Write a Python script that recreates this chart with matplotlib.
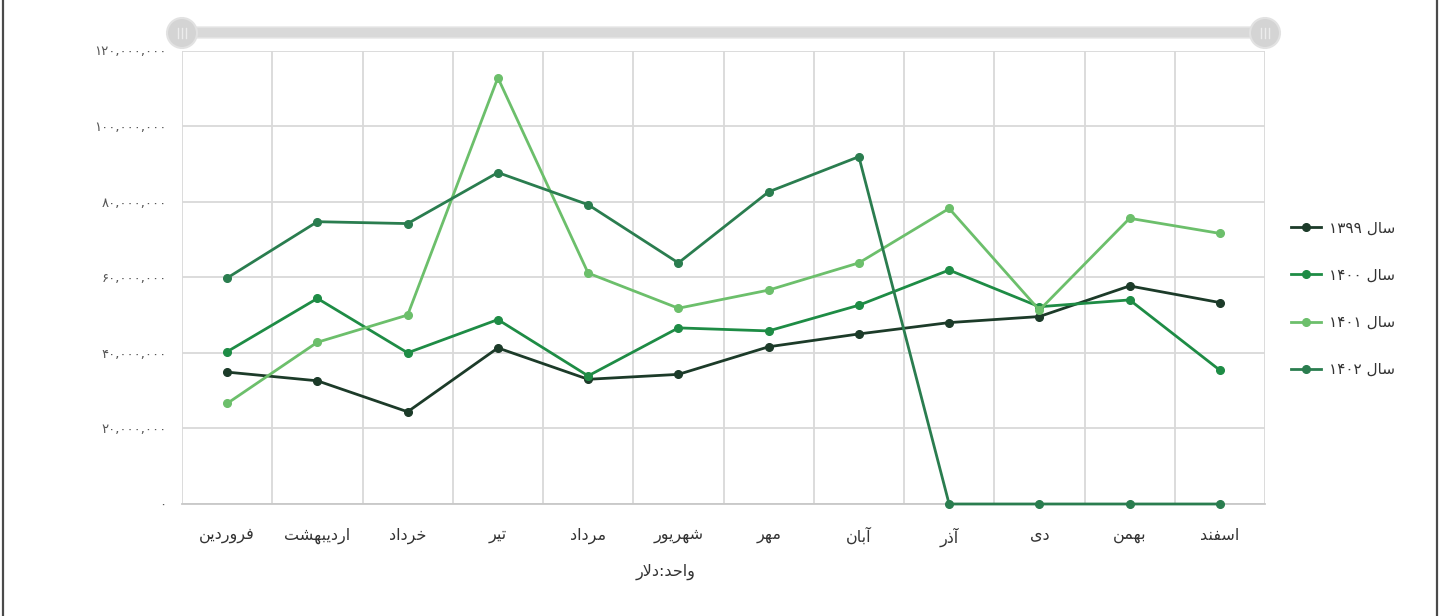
import numpy as np
import matplotlib
matplotlib.use('Agg')
import matplotlib.pyplot as plt
from matplotlib.patches import Circle, FancyBboxPatch
from matplotlib.ticker import FuncFormatter

# data (values in dollars)
months = ['فروردین', 'اردیبهشت', 'خرداد', 'تیر', 'مرداد', 'شهریور',
          'مهر', 'آبان', 'آذر', 'دی', 'بهمن', 'اسفند']
years = ['۱۳۹۹', '۱۴۰۰', '۱۴۰۱', '۱۴۰۲']
y1399 = [34.9, 32.6, 24.4, 41.3, 33.0, 34.3, 41.6, 45.0, 48.0, 49.6, 57.7, 53.3]
y1400 = [40.3, 54.4, 40.0, 48.8, 33.9, 46.6, 45.8, 52.6, 61.9, 52.2, 54.0, 35.4]
y1401 = [26.6, 42.8, 50.0, 112.8, 61.1, 51.8, 56.6, 63.8, 78.2, 51.3, 75.6, 71.6]
y1402 = [59.8, 74.7, 74.2, 87.7, 79.2, 63.8, 82.6, 91.9, 0, 0, 0, 0]
unit_label = 'واحد:دلار'
colors = ['#1c3b29', '#1e8c45', '#6cbf6b', '#2a7d4f']

# --- minimal persian shaping (matplotlib has no complex text layout) ---
FORMS = {  # isolated, final, initial, medial
    'ا': ('\uFE8D', '\uFE8E', None, None),
    'آ': ('\uFE81', '\uFE82', None, None),
    'ب': ('\uFE8F', '\uFE90', '\uFE91', '\uFE92'),
    'ت': ('\uFE95', '\uFE96', '\uFE97', '\uFE98'),
    'ح': ('\uFEA1', '\uFEA2', '\uFEA3', '\uFEA4'),
    'خ': ('\uFEA5', '\uFEA6', '\uFEA7', '\uFEA8'),
    'د': ('\uFEA9', '\uFEAA', None, None),
    'ذ': ('\uFEAB', '\uFEAC', None, None),
    'ر': ('\uFEAD', '\uFEAE', None, None),
    'س': ('\uFEB1', '\uFEB2', '\uFEB3', '\uFEB4'),
    'ش': ('\uFEB5', '\uFEB6', '\uFEB7', '\uFEB8'),
    'ف': ('\uFED1', '\uFED2', '\uFED3', '\uFED4'),
    'ل': ('\uFEDD', '\uFEDE', '\uFEDF', '\uFEE0'),
    'م': ('\uFEE1', '\uFEE2', '\uFEE3', '\uFEE4'),
    'ن': ('\uFEE5', '\uFEE6', '\uFEE7', '\uFEE8'),
    'ه': ('\uFEE9', '\uFEEA', '\uFEEB', '\uFEEC'),
    'و': ('\uFEED', '\uFEEE', None, None),
    'ی': ('\uFBFC', '\uFBFD', '\uFBFE', '\uFBFF'),
}


def shape(text):
    chars = list(text)
    out = []
    i = 0
    while i < len(chars):
        ch = chars[i]
        prev = chars[i - 1] if i > 0 else None
        joins_prev = prev in FORMS and FORMS[prev][2] is not None and out and out[-1] != ' '
        if ch not in FORMS:
            out.append(ch)
            i += 1
            continue
        nxt = chars[i + 1] if i + 1 < len(chars) else None
        if ch == 'ل' and nxt in ('ا', 'آ'):
            out.append('\uFEFC' if joins_prev else '\uFEFB')
            i += 2
            continue
        can_next = FORMS[ch][2] is not None and nxt in FORMS
        iso, fin, ini, med = FORMS[ch]
        if joins_prev and can_next:
            out.append(med)
        elif joins_prev:
            out.append(fin)
        elif can_next:
            out.append(ini)
        else:
            out.append(iso)
        i += 1
    return ''.join(reversed(out))


PDIG = str.maketrans('0123456789', '۰۱۲۳۴۵۶۷۸۹')


def fa_num(v, pos):
    return '{:,}'.format(int(round(v))).translate(PDIG)


plt.rcParams['font.family'] = ['DejaVu Sans']

fig = plt.figure(figsize=(14.5, 6.16), dpi=100)
W, H = 1450, 616

# decoration layer in pixel coordinates (scroll bar, frame lines)
bg = fig.add_axes([0, 0, 1, 1], zorder=0)
bg.set_xlim(0, W)
bg.set_ylim(H, 0)
bg.axis('off')
bg.add_patch(FancyBboxPatch((185, 27), 1080, 11, boxstyle='round,pad=0,rounding_size=5',
                            fc='#d9d9d9', ec='#e6e6e6', lw=1))
for cx in (182, 1265):
    bg.add_patch(Circle((cx, 33), 15, fc='#d4d4d4', ec='#e2e2e2', lw=1.5))
    for dx in (-4, 0, 4):
        bg.plot([cx + dx, cx + dx], [28, 38], color='#ececec', lw=1)
bg.plot([3, 3], [0, H], color='#4a4a4a', lw=1.6)
bg.plot([1437, 1437], [0, H], color='#4a4a4a', lw=1.6)

ax = fig.add_axes([182 / W, 1 - 504 / H, (1265 - 182) / W, (504 - 50.5) / H], zorder=1)
ax.patch.set_alpha(0)

x = np.arange(len(months))
series = [y1399, y1400, y1401, y1402]
for vals, yr, c in zip(series, years, colors):
    ax.plot(x, np.array(vals) * 1e6, color=c, lw=2.0, marker='o', ms=5.5,
            label=yr + ' ' + shape('سال'), clip_on=False, zorder=3)

ax.set_xlim(-0.5, len(months) - 0.5)
ax.set_ylim(0, 120e6)
ax.set_yticks(np.arange(0, 120e6 + 1, 20e6))
ax.yaxis.set_major_formatter(FuncFormatter(fa_num))
ax.set_xticks(x)
ax.set_xticklabels([shape(m) for m in months])
ax.set_xticks(np.arange(-0.5, len(months), 1), minor=True)
ax.grid(True, which='minor', axis='x', color='#d9d9d9', lw=1.3)
ax.grid(True, which='major', axis='y', color='#d9d9d9', lw=1.3)
ax.tick_params(axis='both', which='both', length=0)
ax.tick_params(axis='y', labelsize=9.5, colors='#555555', pad=11)
ax.tick_params(axis='x', labelsize=11.5, colors='#333333', pad=17)
for s in ['top', 'right', 'left']:
    ax.spines[s].set_visible(False)
ax.spines['bottom'].set_color('#c8c8c8')
ax.spines['bottom'].set_linewidth(1.3)
ax.set_axisbelow(True)

ax.text(4.86, -0.15, shape(unit_label), transform=ax.get_xaxis_transform(),
        ha='center', va='center', fontsize=11.5, color='#333333')

fig.legend(loc='upper left', bbox_to_anchor=(1277 / W, 1 - 207 / H), frameon=False,
           fontsize=11, labelspacing=2.1, handlelength=2.0, handletextpad=0.5,
           labelcolor='#333333')

fig.savefig('out.png', dpi=100, facecolor='white')
